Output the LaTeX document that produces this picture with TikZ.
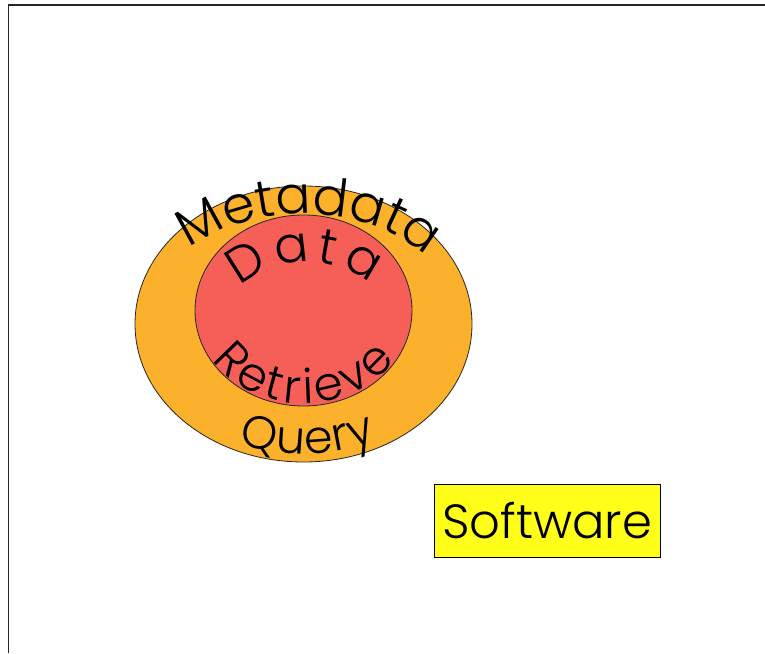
\documentclass[tikz,border=0pt]{standalone}
\usepackage{fontspec}
\IfFontExistsTF{Poppins Light}{\setmainfont{Poppins Light}}{\setmainfont{Poppins}}
\usetikzlibrary{shapes.geometric,decorations.text}
\definecolor{outerorange}{HTML}{FBB12B}
\definecolor{innerred}{HTML}{F65E58}
\definecolor{swyellow}{HTML}{FFFF1A}
\tikzset{
  ring/.style={ellipse, draw=black!85, line width=0.8pt, inner sep=0pt},
  arctext/.style 2 args={decorate, decoration={text along path, text align=fit to path, text={|\fontsize{#1}{#1}\selectfont|#2}}},
  swbox/.style={draw=black, line width=0.8pt, fill=swyellow, minimum width=226pt, minimum height=73pt, inner sep=0pt, font=\fontsize{48}{52}\selectfont},
}
\begin{document}
\begin{tikzpicture}[x=1pt,y=1pt]
\useasboundingbox (0,0) rectangle (765,653);
\coordinate (frameTL) at (8.5,648);
\coordinate (frameBL) at (8.5,0);
\coordinate (frameTR) at (765,648);
\draw[line width=1.6pt, black!85] (frameBL) -- (frameTL) -- (frameTR);
\node[ring, fill=outerorange, minimum width=337pt, minimum height=276pt] (outer) at (303.5,329) {};
\node[ring, fill=innerred, minimum width=217pt, minimum height=191pt] (inner) at (303.5,342.5) {};
\path[arctext={52}{Metadata}] (outer.center) ++(137:156pt and 110pt) arc[start angle=137, end angle=44, x radius=156pt, y radius=110pt];
\path[arctext={50}{Data}] (306,341) ++(150:75pt and 50pt) arc[start angle=150, end angle=33, x radius=75pt, y radius=50pt];
\path[arctext={47}{Retrieve}] (inner.center) ++(212:108pt and 93pt) arc[start angle=212, end angle=328, x radius=108pt, y radius=93pt];
\path[arctext={46}{Query}] (outer.center) ++(247:165pt and 130pt) arc[start angle=247, end angle=296, x radius=165pt, y radius=130pt];
\node[swbox] (software) at (547,132.5) {Software};
\end{tikzpicture}
\end{document}
